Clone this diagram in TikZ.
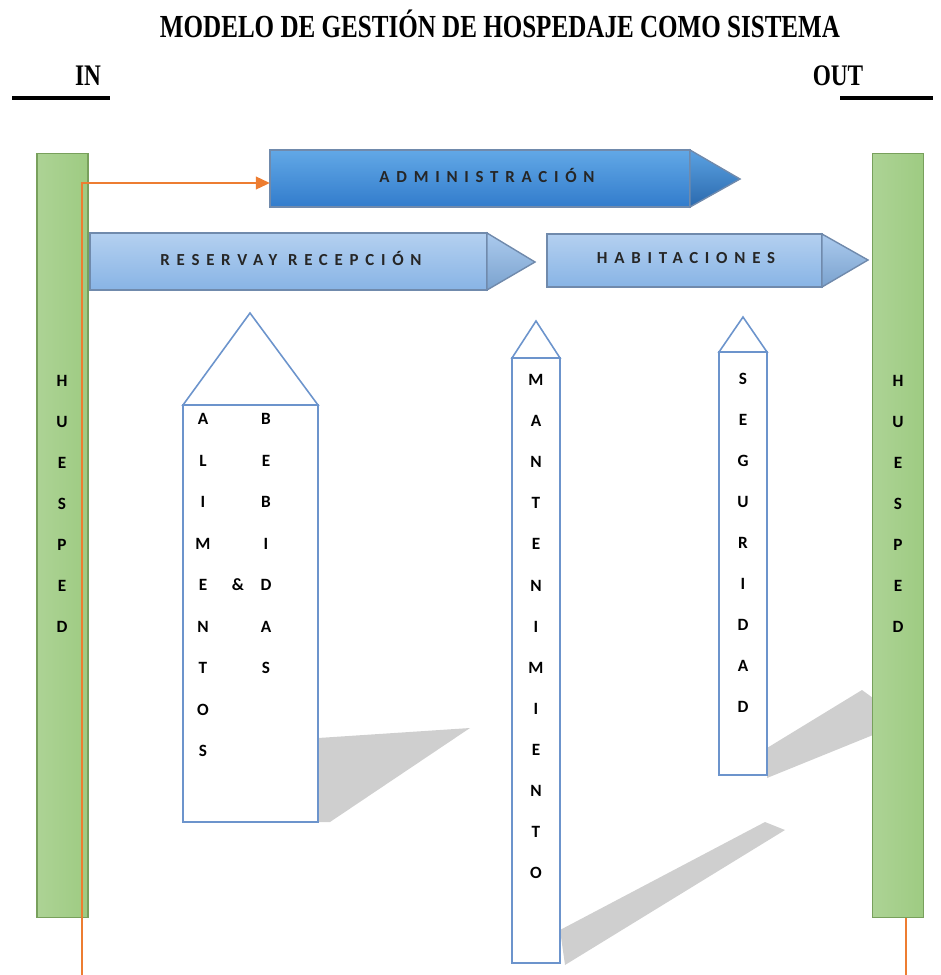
\documentclass[tikz,border=0pt]{standalone}
\usepackage{fontspec}
\setmainfont{Liberation Serif}
\newfontfamily\titlefont[FakeStretch=0.78]{Liberation Serif}
\newfontfamily\boxfont[LetterSpace=40]{Carlito}
\newfontfamily\letterfont{Carlito}
\usetikzlibrary{arrows.meta}
\definecolor{guestgreen}{RGB}{158,203,130}
\definecolor{guestedge}{RGB}{120,160,92}
\definecolor{flowline}{RGB}{237,125,49}
\definecolor{admintop}{RGB}{98,168,230}
\definecolor{adminbot}{RGB}{50,124,204}
\definecolor{proctop}{RGB}{180,208,240}
\definecolor{procbot}{RGB}{136,180,229}
\definecolor{procedge}{RGB}{112,138,172}
\definecolor{pillaredge}{RGB}{108,148,204}
\tikzset{
guestbar/.style={draw=guestedge, line width=0.6pt, left color=guestgreen!85!white, right color=guestgreen, minimum width=1.02cm, minimum height=15.3cm, inner sep=0pt},
letter/.style={font=\letterfont\bfseries\fontsize{9.8}{10}\selectfont, inner sep=0pt},
procbody/.style={top color=proctop, bottom color=procbot, draw=procedge, line width=0.8pt},
prochead/.style={top color=proctop!80!procbot, bottom color=procbot!90!black, draw=procedge, line width=0.8pt},
pillar/.style={draw=pillaredge, line width=0.9pt, fill=white},
shadowband/.style={fill=black!19, draw=none},
proclabel/.style={font=\boxfont\bfseries\fontsize{9.6}{10}\selectfont, text=black!85, inner sep=0pt}
}

\begin{document}
\begin{tikzpicture}[x=0.02cm, y=-0.02cm]
	\useasboundingbox (0,0) rectangle (941,975);

	% title and in / out
	\node[font=\titlefont\bfseries\fontsize{18.3}{22}\selectfont] (title) at (500,24) {MODELO DE GESTIÓN DE HOSPEDAJE COMO SISTEMA};
	\node[font=\titlefont\bfseries\fontsize{17}{20}\selectfont] (in) at (88,76) {IN};
	\node[font=\titlefont\bfseries\fontsize{17}{20}\selectfont] (out) at (838,76) {OUT};
	\draw[line width=2.2pt] (12,98) -- (110,98);
	\draw[line width=2.2pt] (840,98) -- (933,98);

	% shadows
	\fill[shadowband] (318,738) -- (470,728) -- (330,822) -- (318,822) -- cycle;
	\fill[shadowband] (560,930) -- (765,822) -- (785,830) -- (565,965) -- cycle;
	\fill[shadowband] (767,748) -- (862,690) -- (873,698) -- (873,735) -- (767,778) -- cycle;

	% huesped bars
	\node[guestbar] (guestIn) at (62.5,535.5) {};
	\node[guestbar] (guestOut) at (898,535.5) {};
	\foreach \l [count=\i] in {H,U,E,S,P,E,D} {
		\node[letter] (hin\i) at (62,{381+41*(\i-1)}) {\l};
		\node[letter] (hout\i) at (898,{381+41*(\i-1)}) {\l};
	}

	% administracion
	\fill[top color=admintop, bottom color=adminbot, draw=procedge, line width=0.8pt] (270,150) -- (690,150) -- (690,207) -- (270,207) -- cycle;
	\fill[top color=admintop!85!adminbot, bottom color=adminbot!85!black, draw=procedge, line width=0.8pt] (690,150) -- (740,179) -- (690,207) -- cycle;
	\node[proclabel] (admin) at (487,175) {ADMINISTRACIÓN};

	% reserva y recepcion
	\fill[procbody] (90,233) -- (487,233) -- (487,290) -- (90,290) -- cycle;
	\fill[prochead] (487,233) -- (535,262) -- (487,290) -- cycle;
	\node[proclabel] (reserva) at (291,258) {RESERVAY RECEPCIÓN};

	% habitaciones
	\fill[procbody] (547,234) -- (822,234) -- (822,287) -- (547,287) -- cycle;
	\fill[prochead] (822,234) -- (868,260) -- (822,287) -- cycle;
	\node[proclabel] (habitaciones) at (686,258) {HABITACIONES};

	% guest flow
	\coordinate (flowEnd) at (82,975);
	\coordinate (flowOut) at (906,975);
	\coordinate (adminIn) at (270,183);
	\draw[flowline, line width=1.6pt, -{Triangle[length=8pt, width=7pt]}] (flowEnd) |- (adminIn);
	\draw[flowline, line width=1.6pt] (guestOut.south -| flowOut) -- (flowOut);

	% alimentos y bebidas
	\draw[pillar] (183,405) -- (250,313) -- (318,405) -- cycle;
	\draw[pillar] (183,405) rectangle (318,822);
	\foreach \l [count=\i] in {A,L,I,M,E,N,T,O,S}
		\node[letter] (ali\i) at (203,{419+41.5*(\i-1)}) {\l};
	\foreach \l [count=\i] in {B,E,B,I,D,A,S}
		\node[letter] (beb\i) at (266,{419+41.5*(\i-1)}) {\l};
	\node[letter] (amp) at (238,585) {\&};

	% mantenimiento
	\draw[pillar] (512,358) -- (536,321) -- (560,358) -- cycle;
	\draw[pillar] (512,358) rectangle (560,963);
	\foreach \l [count=\i] in {M,A,N,T,E,N,I,M,I,E,N,T,O}
		\node[letter] (man\i) at (536,{380+41.1*(\i-1)}) {\l};

	% seguridad
	\draw[pillar] (719,352) -- (743,317) -- (767,352) -- cycle;
	\draw[pillar] (719,352) rectangle (767,775);
	\foreach \l [count=\i] in {S,E,G,U,R,I,D,A,D}
		\node[letter] (seg\i) at (743,{379+41*(\i-1)}) {\l};

\end{tikzpicture}
\end{document}
